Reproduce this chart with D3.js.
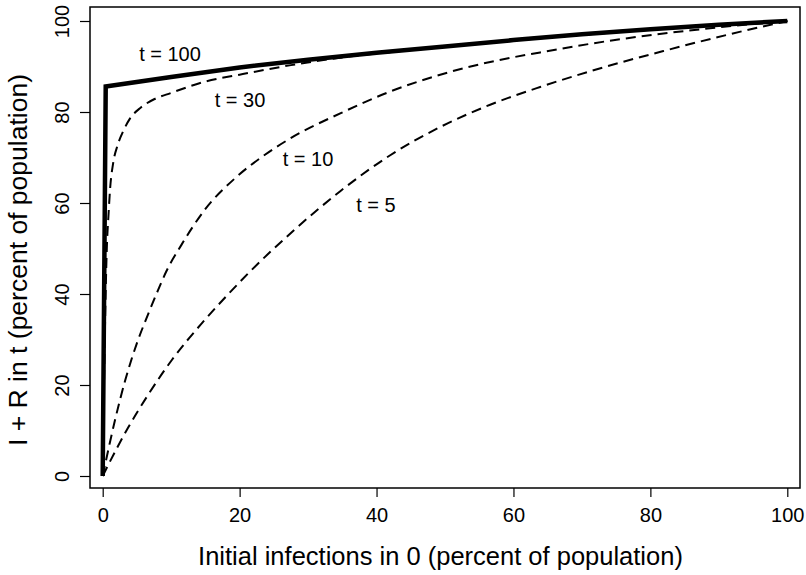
<!DOCTYPE html>
<html>
<head>
<meta charset="utf-8">
<script src="https://cdn.jsdelivr.net/npm/d3@7"></script>
<style>
  html, body { margin: 0; padding: 0; background: #fff; }
  svg { display: block; }
  text { font-family: "Liberation Sans", Arial, Helvetica, sans-serif; fill: #000; }
</style>
</head>
<body>
<svg id="chart" width="806" height="575"></svg>
<script>
// Share of population ever infected (I + R) at time t, against initial infections
const xTicks = [0, 20, 40, 60, 80, 100];
const yTicks = [0, 20, 40, 60, 80, 100];

const t100X = [0, 0.44, 10, 20, 30, 40, 50, 60, 70, 80, 90, 100];
const t100Y = [0, 85.6, 87.7, 89.8, 91.5, 93.0, 94.4, 95.8, 97.1, 98.2, 99.2, 100];

const t30X = [0, 0.3, 0.6, 0.85, 1.1, 1.5, 2.2, 3.0, 4.0, 5.5, 7.5, 10, 15, 20, 27.5, 35, 45, 60, 80, 100];
const t30Y = [0, 30, 50, 57.5, 63.5, 68.5, 72.8, 75.8, 78.6, 80.9, 82.8, 84.2, 86.7, 88.2, 90.3, 92.0, 93.6, 95.7, 98.1, 100];

const t10X = [0, 1.8, 3.3, 5, 6.7, 8.1, 9.3, 11.5, 14.9, 19.3, 23.7, 27.4, 34.7, 42, 49.3, 56.6, 63.9, 75.6, 88.7, 100];
const t10Y = [0, 12.3, 21.1, 29.2, 35.8, 40.9, 45.0, 50.8, 58.5, 65.4, 70.6, 74.2, 79.7, 84.5, 88.2, 91.0, 93.1, 96.0, 98.4, 100];

const t5X = [0, 0.8, 3.7, 6.7, 10.1, 14.5, 18.3, 21.3, 28, 34.7, 42, 49.3, 56.6, 63.9, 72.2, 81.9, 91.6, 100];
const t5Y = [0, 2.4, 10.6, 18.0, 25.5, 33.6, 39.9, 44.6, 54.1, 62.6, 70.5, 76.7, 81.6, 85.5, 89.4, 93.4, 97.1, 100];

const curveLabels = ["t = 100", "t = 30", "t = 10", "t = 5"];

const svg = d3.select("#chart");
const box = { left: 90, right: 800, top: 7, bottom: 488 };

const x = d3.scaleLinear().domain([0, 100]).range([102.7, 787.3]);
const y = d3.scaleLinear().domain([0, 100]).range([476, 21]);

// frame
svg.append("rect")
  .attr("x", box.left).attr("y", box.top)
  .attr("width", box.right - box.left).attr("height", box.bottom - box.top)
  .attr("fill", "none").attr("stroke", "#000").attr("stroke-width", 1.5);

// axes
const xAxis = d3.axisBottom(x).tickValues(xTicks).tickSize(9).tickPadding(6).tickSizeOuter(0);
const gx = svg.append("g").attr("transform", `translate(0,${box.bottom})`).call(xAxis);
gx.select(".domain").remove();
gx.selectAll(".tick line").attr("stroke", "#000").attr("stroke-width", 1.2);
gx.selectAll(".tick text").attr("font-size", 20).attr("font-family", "Liberation Sans, Arial, sans-serif")
  .attr("fill", "#000").attr("y", 0).attr("dy", null)
  .attr("transform", "translate(0,29)").attr("dominant-baseline", "middle");

const yAxis = d3.axisLeft(y).tickValues(yTicks).tickSize(10).tickSizeOuter(0);
const gy = svg.append("g").attr("transform", `translate(${box.left},0)`).call(yAxis);
gy.select(".domain").remove();
gy.selectAll(".tick line").attr("stroke", "#000").attr("stroke-width", 1.2);
gy.selectAll(".tick text").attr("font-size", 20).attr("font-family", "Liberation Sans, Arial, sans-serif")
  .attr("fill", "#000").attr("x", 0).attr("dy", null)
  .attr("text-anchor", "middle").attr("dominant-baseline", "middle")
  .attr("transform", "translate(-26,0) rotate(-90)");

// axis titles
svg.append("text")
  .attr("x", 440.5).attr("y", 565)
  .attr("text-anchor", "middle").attr("font-size", 25.5)
  .text("Initial infections in 0 (percent of population)");

svg.append("text")
  .attr("transform", "translate(27,260) rotate(-90)")
  .attr("text-anchor", "middle").attr("font-size", 26.5)
  .text("I + R in t (percent of population)");

// curves
const line = d3.line().x(d => x(d[0])).y(d => y(d[1]));
const smooth = d3.line().x(d => x(d[0])).y(d => y(d[1])).curve(d3.curveMonotoneX);

const dashed = [[t30X, t30Y], [t10X, t10Y], [t5X, t5Y]];
dashed.forEach(([xs, ys]) => {
  svg.append("path")
    .datum(d3.zip(xs, ys))
    .attr("d", smooth)
    .attr("fill", "none").attr("stroke", "#000")
    .attr("stroke-width", 2).attr("stroke-dasharray", "10,6");
});

svg.append("path")
  .datum(d3.zip(t100X, t100Y))
  .attr("d", line)
  .attr("fill", "none").attr("stroke", "#000")
  .attr("stroke-width", 4.5).attr("stroke-linejoin", "miter");

// curve labels
const labelPos = [[170, 54], [240, 100], [308, 159], [376, 205]];
curveLabels.forEach((s, i) => {
  svg.append("text")
    .attr("x", labelPos[i][0]).attr("y", labelPos[i][1])
    .attr("text-anchor", "middle").attr("dominant-baseline", "central")
    .attr("font-size", 20).text(s);
});
</script>
</body>
</html>
